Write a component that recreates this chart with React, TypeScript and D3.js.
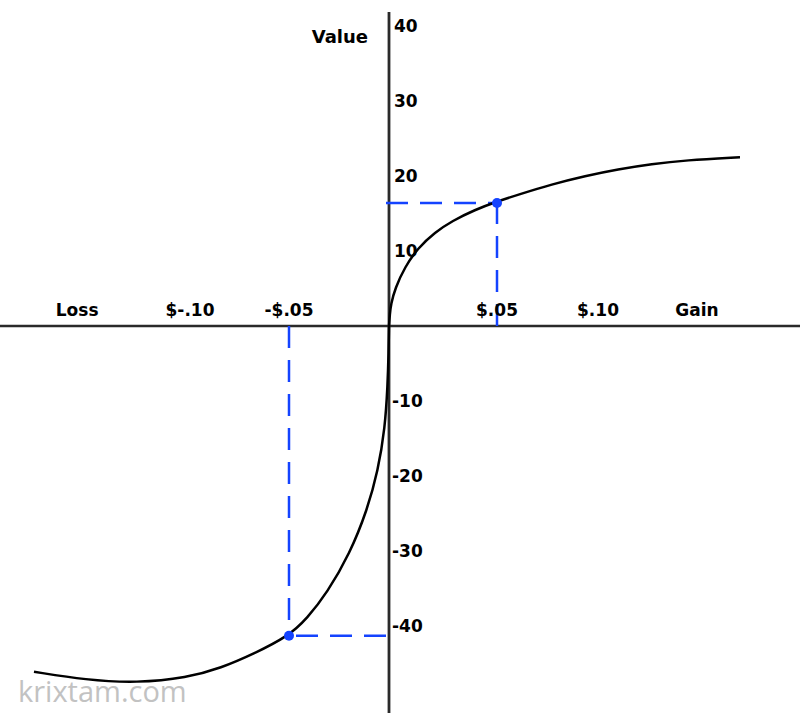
import React from "react";
import * as d3 from "d3";

// Gain side of the value function: [dollar change, subjective value]
const gainCurve: [number, number][] = [
  [0, 0], [0.0004, 1.6], [0.0009, 2.9], [0.0028, 5.0], [0.0074, 7.9], [0.0134, 10.4], [0.0213, 12.5],
  [0.0292, 14.0], [0.0398, 15.5], [0.05, 16.6], [0.0604, 17.5], [0.0772, 18.9],
  [0.0936, 20.0], [0.1099, 20.9], [0.1267, 21.6], [0.1431, 22.1], [0.1703, 22.5],
];
// Loss side
const lossCurve: [number, number][] = [
  [-0.1788, -46.1], [-0.1525, -47.2], [-0.1268, -47.6], [-0.1015, -46.9], [-0.0843, -45.6],
  [-0.0677, -43.7], [-0.05, -41.3], [-0.041, -39.0], [-0.031, -35.6], [-0.0195, -30.3],
  [-0.011, -24.6], [-0.0055, -19.3], [-0.002, -13.6], [-0.0007, -8.0], [-0.0002, -3.5], [0, 0],
];
const markedPoints: [number, number][] = [[0.05, 16.4], [-0.05, -41.3]];

const xTickValues = [-0.157, -0.1, -0.05, 0.05, 0.1, 0.149];
const xTickLabels = ["Loss", "$-.10", "-$.05", "$.05", "$.10", "Gain"];
const yTickValues = [40, 30, 20, 10, -10, -20, -30, -40];
const yTickLabels = ["40", "30", "20", "10", "-10", "-20", "-30", "-40"];

const W = 800;
const H = 718;

export default function App() {
  const x = d3.scaleLinear().domain([-0.1, -0.05, 0, 0.05, 0.1]).range([190, 289, 389, 497, 598]);
  const y = d3.scaleLinear().domain([-40, 40]).range([626, 26]);
  const line = d3
    .line<[number, number]>()
    .x((d) => x(d[0]))
    .y((d) => y(d[1]))
    .curve(d3.curveBasis);

  const x0 = x(0);
  const y0 = y(0);
  const blue = "#1443ff";
  const font = "'DejaVu Sans', Verdana, sans-serif";

  return (
    <svg
      width={W}
      height={H}
      style={{ position: "absolute", left: 0, top: 0, background: "#fff" }}
      fontFamily={font}
    >
      {/* axes */}
      <line x1={0} x2={W} y1={y0} y2={y0} stroke="#2a2a2a" strokeWidth={2.5} />
      <line x1={x0} x2={x0} y1={12} y2={713} stroke="#2a2a2a" strokeWidth={2.8} />

      {/* dashed guides */}
      {markedPoints.map((p, i) => (
        <g key={i} stroke={blue} strokeWidth={2.5} strokeDasharray="22,12" fill="none">
          <path d={`M${x(p[0])},${y0} L${x(p[0])},${y(p[1])}`} />
          <path d={`M${x0 - 3},${y(p[1])} L${x(p[0])},${y(p[1])}`} />
        </g>
      ))}

      {/* curves */}
      <path d={line(gainCurve) || ""} fill="none" stroke="#000" strokeWidth={2.5} />
      <path d={line(lossCurve) || ""} fill="none" stroke="#000" strokeWidth={2.5} />

      {markedPoints.map((p, i) => (
        <circle key={i} cx={x(p[0])} cy={y(p[1])} r={5} fill={blue} />
      ))}

      {/* x labels */}
      {xTickValues.map((v, i) => (
        <text
          key={i}
          x={x(v)}
          y={y0 - 10}
          textAnchor="middle"
          fontSize={17}
          fontWeight="bold"
          fill="#000"
        >
          {xTickLabels[i]}
        </text>
      ))}

      {/* y labels */}
      {yTickValues.map((v, i) => (
        <text
          key={i}
          x={x0 + (v < 0 ? 3 : 5)}
          y={y(v)}
          dy="0.36em"
          textAnchor="start"
          fontSize={17}
          fontWeight="bold"
          fill="#000"
        >
          {yTickLabels[i]}
        </text>
      ))}

      <text x={368} y={43} textAnchor="end" fontSize={18} fontWeight="bold" fill="#000">
        Value
      </text>

      <text
        x={18}
        y={702}
        fontSize={29}
        fontFamily="'Open Sans', 'Noto Sans', sans-serif"
        fill="#c2c2c2"
      >
        krixtam.com
      </text>
    </svg>
  );
}
